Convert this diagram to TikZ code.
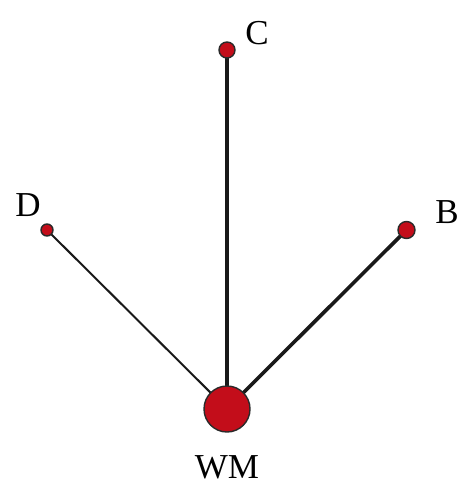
\documentclass[tikz,border=0pt]{standalone}
\usepackage{fontspec}
\setmainfont{Liberation Serif}
\usetikzlibrary{backgrounds}
\definecolor{nodered}{HTML}{C30D1A}
\definecolor{rimgray}{HTML}{2A2A2A}
\begin{document}
\begin{tikzpicture}[x=1pt,y=-1pt,
  vert/.style={circle,draw=rimgray,line width=1.4pt,fill=nodered,inner sep=0pt},
  lbl/.style={font=\fontsize{35}{38}\selectfont,inner sep=0pt},
  edge/.style={draw=black!90}]
\useasboundingbox (0,0) rectangle (472,500);
\node[vert,minimum size=46pt] (wm) at (227,409) {};
\node[vert,minimum size=16pt] (c) at (227,50) {};
\node[vert,minimum size=12pt] (d) at (47,230) {};
\node[vert,minimum size=17pt] (b) at (406.5,230) {};
\begin{scope}[on background layer]
\draw[edge,line width=4pt] (c.center) -- (wm.center);
\draw[edge,line width=3.6pt] (b.center) -- (wm.center);
\draw[edge,line width=2pt] (d.center) -- (wm.center);
\end{scope}
\node[lbl] (lc) at (257,33) {C};
\node[lbl] (ld) at (28,205) {D};
\node[lbl] (lb) at (447,212) {B};
\node[lbl] (lwm) at (227,467) {WM};
\end{tikzpicture}
\end{document}
